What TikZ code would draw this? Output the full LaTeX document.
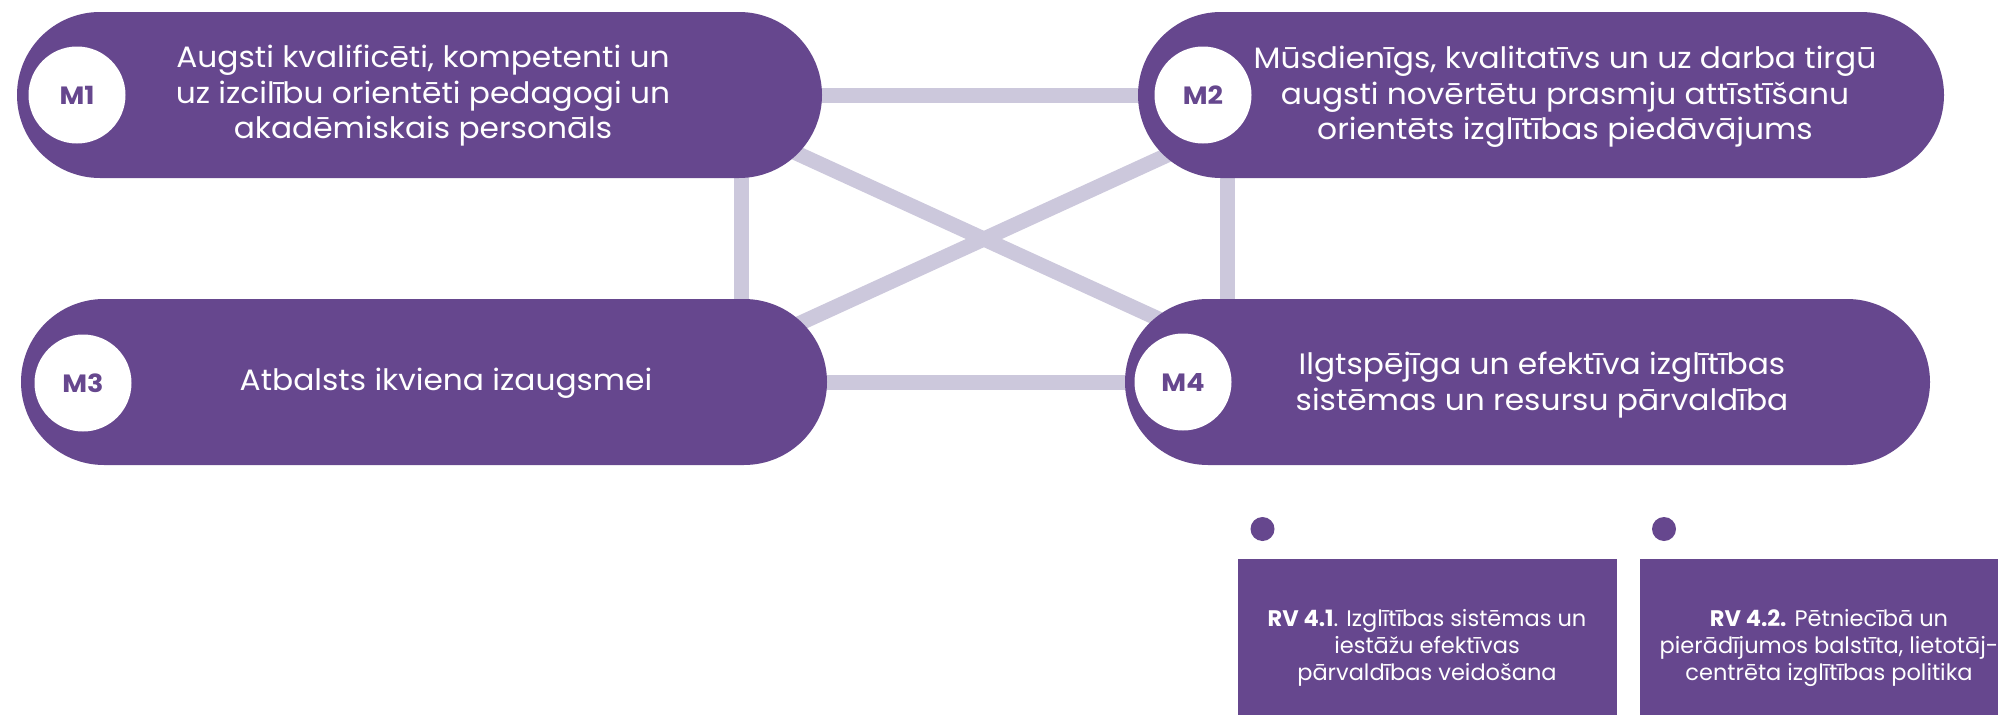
\documentclass[tikz,border=0pt]{standalone}
\usepackage{fontspec}
\setmainfont{Poppins}
\newfontfamily\pillfont[FakeStretch=1.06]{Poppins}
\newfontfamily\mfont[FakeStretch=1.08]{Poppins}
\usetikzlibrary{backgrounds}
\definecolor{pur}{HTML}{66478E}
\definecolor{lnk}{HTML}{CCC8DC}
\tikzset{
  pill/.style={fill=pur, rounded corners=83pt, minimum height=166pt, inner sep=0pt},
  mcirc/.style={circle, fill=white, minimum size=97pt, inner sep=0pt, text=pur,
    font=\mfont\fontsize{25}{30}\selectfont\bfseries},
  ptext/.style={text=white, align=center, inner sep=0pt,
    font=\pillfont\fontsize{29.5}{35.5}\selectfont},
  link/.style={draw=lnk, line width=15pt},
  rvbox/.style={fill=pur, minimum width=379pt, minimum height=200pt, anchor=north west, inner sep=0pt},
  rvtext/.style={text=white, align=center, inner sep=0pt,
    font=\fontsize{22.5}{27}\selectfont},
  dotc/.style={circle, fill=pur, minimum size=24pt, inner sep=0pt},
}
\begin{document}
\begin{tikzpicture}[x=1pt,y=-1pt]
\useasboundingbox (0,0) rectangle (1998,715);
\clip (0,0) rectangle (1998,715);
% pills
\node[pill, minimum width=805pt] (m1) at (419.5,95) {};
\node[pill, minimum width=806pt] (m2) at (1541,95) {};
\node[pill, minimum width=806pt] (m3) at (424,382) {};
\node[pill, minimum width=805pt] (m4) at (1527.5,382) {};
% connectors
\coordinate (xl) at (741,0);
\coordinate (xr) at (1227,0);
\coordinate (d1s) at (700,109);
\coordinate (d1e) at (1270,370);
\coordinate (d2s) at (700,369);
\coordinate (d2e) at (1270,108);
\begin{scope}[on background layer]
  \draw[link] (m1.center) -- (m2.center);
  \draw[link] (m3.center) -- (m4.center);
  \draw[link] (m1.center -| xl) -- (m3.center -| xl);
  \draw[link] (m2.center -| xr) -- (m4.center -| xr);
  \draw[link] (d1s) -- (d1e);
  \draw[link] (d2s) -- (d2e);
\end{scope}
% circles
\node[mcirc] (c1) at (77,95) {M1};
\node[mcirc] (c2) at (1203,95) {M2};
\node[mcirc] (c3) at (83,383) {M3};
\node[mcirc] (c4) at (1183,382) {M4};
% texts
\node[ptext] (t1) at (423,96) {Augsti kvalificēti, kompetenti un\\uz izcilību orientēti pedagogi un\\akadēmiskais personāls};
\node[ptext] (t2) at (1565,97) {Mūsdienīgs, kvalitatīvs un uz darba tirgū\\augsti novērtētu prasmju attīstīšanu\\orientēts izglītības piedāvājums};
\node[ptext] (t3) at (446,383) {Atbalsts ikviena izaugsmei};
\node[ptext] (t4) at (1542,385) {Ilgtspējīga un efektīva izglītības\\sistēmas un resursu pārvaldība};
% RV boxes
\node[dotc] (p1) at (1262.5,529) {};
\node[dotc] (p2) at (1664,529) {};
\node[rvbox] (r1) at (1238,559) {};
\node[rvbox] (r2) at (1640,559) {};
\node[rvtext] (rt1) at (1427,648) {\textbf{RV 4.1}. Izglītības sistēmas un\\iestāžu efektīvas\\pārvaldības veidošana};
\node[rvtext] (rt2) at (1829,648) {\textbf{RV 4.2.} Pētniecībā un\\pierādījumos balstīta, lietotāj-\\centrēta izglītības politika};
\end{tikzpicture}
\end{document}
